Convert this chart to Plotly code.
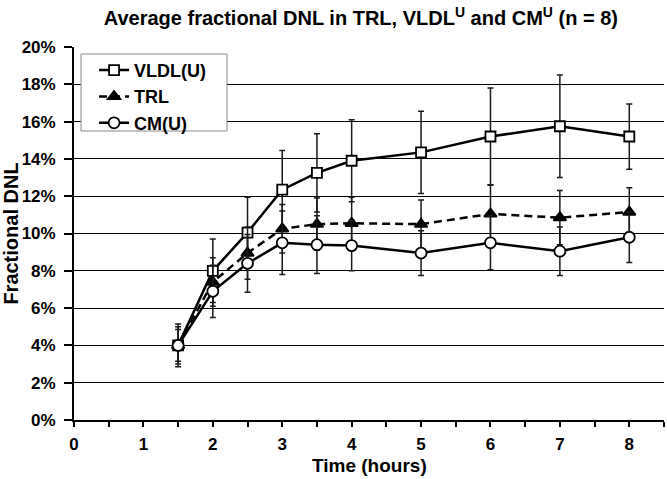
import plotly.graph_objects as go

hours = [1.5, 2, 2.5, 3, 3.5, 4, 5, 6, 7, 8]
vldl = [4.0, 8.0, 10.05, 12.35, 13.25, 13.9, 14.35, 15.2, 15.75, 15.2]
vldl_sd = [1.15, 1.7, 1.9, 2.1, 2.1, 2.2, 2.2, 2.6, 2.75, 1.75]
trl = [4.0, 7.4, 8.95, 10.25, 10.5, 10.55, 10.5, 11.05, 10.85, 11.15]
trl_sd = [1.0, 1.3, 1.4, 1.3, 1.4, 1.4, 1.3, 1.55, 1.45, 1.3]
cm = [4.0, 6.9, 8.4, 9.5, 9.4, 9.35, 8.95, 9.5, 9.05, 9.8]
cm_sd = [0.85, 1.4, 1.55, 1.7, 1.55, 1.35, 1.2, 1.45, 1.3, 1.35]

FONT = "Liberation Sans, Arial, sans-serif"

def frac(v):
    return [x / 100 for x in v]

fig = go.Figure()

def add(name, y, sd, symbol, fill, dash, size):
    fig.add_trace(go.Scatter(
        x=hours, y=frac(y), name=name, mode="lines+markers",
        line=dict(color="black", width=2.5, dash=dash),
        marker=dict(symbol=symbol, size=size,
                    color=fill, line=dict(color="black", width=1.8)),
        error_y=dict(type="data", array=frac(sd), visible=True,
                     color="#1a1a1a", thickness=1.5, width=3),
    ))

add("VLDL(U)", vldl, vldl_sd, "square", "white", "solid", 10)
add("TRL", trl, trl_sd, "triangle-up", "black", "8px,5px", 11)
add("CM(U)", cm, cm_sd, "circle", "white", "solid", 11)

# legend frame (drawn as a shape so its padding can match the reference)
fig.add_shape(type="rect", xref="paper", yref="paper",
              x0=0.0119, x1=0.2593, y0=0.7748, y1=0.9812,
              line=dict(color="#888", width=1), fillcolor="white", layer="above")

# x-axis title as an annotation so it fits inside the bottom margin
fig.add_annotation(text="Time (hours)", xref="paper", yref="paper",
                   x=0.5, y=-0.155, xanchor="center", yanchor="bottom",
                   showarrow=False, font=dict(family=FONT, size=19, weight="bold"))

fig.update_layout(
    width=667, height=479,
    margin=dict(l=74, r=3, t=47, b=59),
    paper_bgcolor="white", plot_bgcolor="white",
    font=dict(family=FONT, color="black", size=17, weight="bold"),
    title=dict(text="Average fractional DNL in TRL, VLDL<sup>U</sup> and CM<sup>U</sup> (n = 8)",
               x=0.541, xanchor="center", y=0.962, yanchor="middle",
               font=dict(family=FONT, size=20, weight="bold")),
    showlegend=True,
    legend=dict(x=0.034, y=0.987, xanchor="left", yanchor="top",
                bgcolor="rgba(0,0,0,0)", borderwidth=0,
                font=dict(family=FONT, size=18, weight="bold"),
                tracegroupgap=0, itemwidth=30),
)

fig.update_xaxes(
    range=[0, 8.5], tickmode="linear", tick0=0, dtick=1,
    showgrid=False, zeroline=False, automargin=False,
    showline=True, linecolor="black", linewidth=1.5,
    ticks="outside", ticklen=5, tickcolor="black", tickwidth=1.5,
    minor=dict(dtick=0.5, ticks="outside", ticklen=5, tickcolor="black", tickwidth=1.5, showgrid=False),
    tickfont=dict(family=FONT, size=17, weight="bold"),
    ticklabelstandoff=3,
)
fig.update_yaxes(
    range=[0, 0.2], tickmode="linear", tick0=0, dtick=0.02, tickformat=".0%",
    showgrid=True, gridcolor="black", gridwidth=1.3, zeroline=False, automargin=False,
    showline=True, linecolor="black", linewidth=1.8,
    ticks="outside", ticklen=8, tickcolor="black", tickwidth=1.5,
    tickfont=dict(family=FONT, size=17, weight="bold"),
    ticklabelstandoff=5,
    title=dict(text="Fractional DNL", font=dict(family=FONT, size=20, weight="bold"), standoff=3),
)

# remove the default 8px page margin so the figure sits at the window's corner
fig.write_html("out.html", config={"displayModeBar": False},
               post_script="document.body.style.margin='0';")
